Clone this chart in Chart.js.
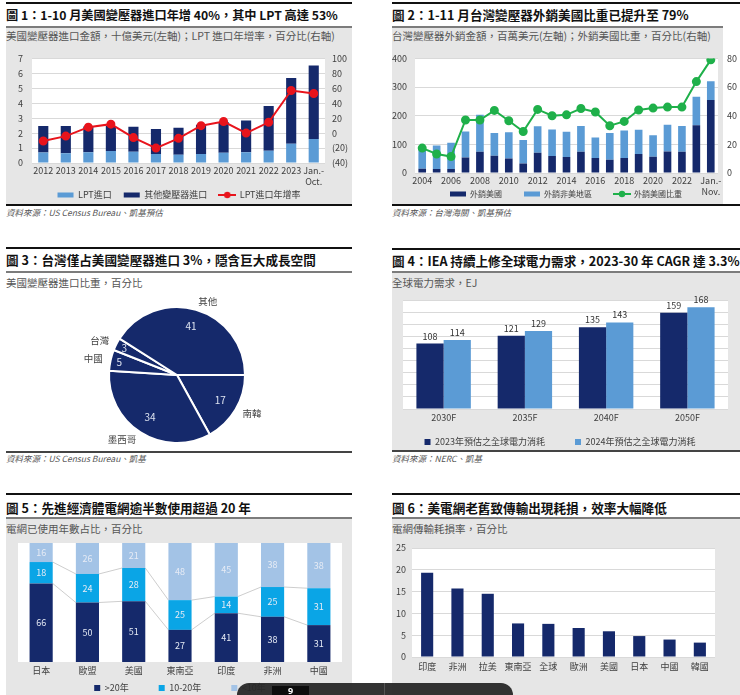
<!DOCTYPE html>
<html>
<head>
<meta charset="utf-8">
<script src="https://cdn.jsdelivr.net/npm/chart.js@4.4.1/dist/chart.umd.min.js"></script>
<style>
  body { margin:0; width:740px; height:695px; position:relative; overflow:hidden; background:#fff;
         font-family:"Noto Sans CJK TC","Noto Sans CJK SC","Noto Sans",sans-serif; }
  .rule { position:absolute; height:2px; background:#111; }
  .grule { position:absolute; height:2px; background:#7c7c7c; }
  .bg { position:absolute; background:#e6e6e6; }
  .title { position:absolute; font-weight:700; font-size:12.6px; line-height:14px; color:#111; white-space:nowrap; }
  .sub { position:absolute; font-size:10.5px; line-height:13px; color:#555; white-space:nowrap; }
  .src { position:absolute; font-style:italic; font-size:8.5px; line-height:12px; color:#555; white-space:nowrap; }
  canvas { position:absolute; }
  #overlay { position:absolute; left:237px; top:683px; width:276px; height:14px; background:rgba(40,40,40,0.95);
             border-radius:12px 12px 0 0; overflow:hidden; }
  #overlay .k { position:absolute; left:35px; top:3px; width:37px; height:12px; background:#0d0d0d; color:#fff;
                font:bold 9px "Noto Sans",sans-serif; text-align:center; line-height:9px; }
  #overlay .s { position:absolute; left:147px; top:0; width:1px; height:14px; background:#555; }
</style>
</head>
<body>

<!-- panel 1 -->
<div class="rule" style="left:6px;top:2px;width:346px"></div>
<div class="title" style="left:6px;top:8px;font-size:12.2px">圖 1：1-10 月美國變壓器進口年增 40%，其中 LPT 高達 53%</div>
<div class="grule" style="left:6px;top:26px;width:346px"></div>
<div class="bg" style="left:6px;top:28px;width:346px;height:176px"></div>
<div class="sub" style="left:6px;top:29px">美國變壓器進口金額，十億美元(左軸)；LPT 進口年增率，百分比(右軸)</div>
<div class="rule" style="left:6px;top:204px;width:346px"></div>
<div class="src" style="left:6px;top:206px">資料來源：US Census Bureau、凱基預估</div>

<!-- panel 2 -->
<div class="rule" style="left:392px;top:2px;width:348px"></div>
<div class="title" style="left:392px;top:8px">圖 2：1-11 月台灣變壓器外銷美國比重已提升至 79%</div>
<div class="grule" style="left:392px;top:26px;width:331px"></div>
<div class="bg" style="left:392px;top:28px;width:331px;height:176px"></div>
<div class="sub" style="left:392px;top:29px">台灣變壓器外銷金額，百萬美元(左軸)；外銷美國比重，百分比(右軸)</div>
<div class="rule" style="left:392px;top:204px;width:348px"></div>
<div class="src" style="left:392px;top:206px">資料來源：台灣海關、凱基預估</div>

<!-- panel 3 -->
<div class="rule" style="left:6px;top:247px;width:346px"></div>
<div class="title" style="left:6px;top:253px">圖 3：台灣僅占美國變壓器進口 3%，隱含巨大成長空間</div>
<div class="grule" style="left:6px;top:271px;width:346px"></div>
<div class="sub" style="left:6px;top:276px">美國變壓器進口比重，百分比</div>
<div class="rule" style="left:6px;top:451px;width:346px;background:#444"></div>
<div class="src" style="left:6px;top:452px">資料來源：US Census Bureau、凱基</div>

<!-- panel 4 -->
<div class="rule" style="left:392px;top:248px;width:348px"></div>
<div class="title" style="left:392px;top:254px">圖 4：IEA 持續上修全球電力需求，2023-30 年 CAGR 達 3.3%</div>
<div class="grule" style="left:392px;top:271px;width:348px"></div>
<div class="bg" style="left:392px;top:273px;width:348px;height:177px"></div>
<div class="sub" style="left:392px;top:276px">全球電力需求，EJ</div>
<div class="rule" style="left:392px;top:450px;width:348px;background:#444"></div>
<div class="src" style="left:392px;top:452px">資料來源：NERC、凱基</div>

<!-- panel 5 -->
<div class="rule" style="left:6px;top:493px;width:346px"></div>
<div class="title" style="left:6px;top:501px">圖 5：先進經濟體電網逾半數使用超過 20 年</div>
<div class="grule" style="left:6px;top:517px;width:346px"></div>
<div class="bg" style="left:6px;top:519px;width:346px;height:176px"></div>
<div class="sub" style="left:6px;top:522px">電網已使用年數占比，百分比</div>

<!-- panel 6 -->
<div class="rule" style="left:392px;top:493px;width:348px"></div>
<div class="title" style="left:392px;top:501px">圖 6：美電網老舊致傳輸出現耗損，效率大幅降低</div>
<div class="grule" style="left:392px;top:517px;width:348px"></div>
<div class="bg" style="left:392px;top:519px;width:348px;height:176px"></div>
<div class="sub" style="left:392px;top:522px">電網傳輸耗損率，百分比</div>

<canvas id="c1" width="346" height="174" style="left:6px;top:44px"></canvas>
<canvas id="c2" width="348" height="193" style="left:392px;top:44px"></canvas>
<canvas id="c3" width="346" height="160" style="left:6px;top:295px"></canvas>
<canvas id="c4" width="348" height="186" style="left:392px;top:290px"></canvas>
<canvas id="c5" width="346" height="192" style="left:6px;top:535px"></canvas>
<canvas id="c6" width="348" height="140" style="left:392px;top:535px"></canvas>

<div id="overlay"><div class="k">9</div><div class="s"></div></div>

<script>
// chart 1 - US transformer imports
const c1Labels = ['2012','2013','2014','2015','2016','2017','2018','2019','2020','2021','2022','2023',['Jan.-','Oct.']];
const c1Lpt    = [0.70, 0.65, 0.72, 0.81, 0.76, 0.60, 0.55, 0.61, 0.69, 0.72, 0.82, 1.28, 1.60];
const c1Other  = [1.77, 1.82, 1.73, 1.66, 1.67, 1.68, 1.81, 1.95, 2.06, 2.12, 3.00, 4.40, 4.93];
const c1Growth = [-10.5, -4, 8, 12, -6, -20, -7, 10, 15.5, 0, 14.5, 57, 53];

// chart 2 - Taiwan transformer exports
const c2Labels = ['2004','2005','2006','2007','2008','2009','2010','2011','2012','2013','2014','2015','2016','2017','2018','2019','2020','2021','2022','2023',['Jan.-','Nov.']];
const c2Us     = [15, 14, 14, 54, 74, 60, 51, 33, 71, 59, 56, 74, 52, 46, 52, 66, 57, 75, 74, 167, 255];
const c2NonUs  = [67, 82, 92, 91, 129, 80, 91, 82, 92, 93, 88, 90, 72, 94, 96, 85, 75, 93, 90, 99, 65];
const c2Share  = [17.4, 13.3, 11.5, 37, 37, 43.7, 36.5, 29, 44.4, 40, 40.6, 45, 42.6, 33, 36, 44, 45.3, 46, 46, 63.8, 79];

// chart 3 - US import share
const c3Labels = ['南韓','墨西哥','中國','台灣','其他'];
const c3Share  = [17, 34, 5, 3, 41];

// chart 4 - IEA power demand
const c4Labels = ['2030F','2035F','2040F','2050F'];
const c4Y2023  = [108, 121, 135, 159];
const c4Y2024  = [114, 129, 143, 168];

// chart 5 - grid age
const c5Labels = ['日本','歐盟','美國','東南亞','印度','非洲','中國'];
const c5Over20 = [66, 50, 51, 27, 41, 38, 31];
const c5Mid    = [18, 24, 28, 25, 14, 25, 31];
const c5Under10= [16, 26, 21, 48, 45, 38, 38];

// chart 6 - transmission loss
const c6Labels = ['印度','非洲','拉美','東南亞','全球','歐洲','美國','日本','中國','韓國'];
const c6Loss   = [19.3, 15.7, 14.5, 7.7, 7.6, 6.65, 5.9, 4.8, 4.0, 3.3];

const NAVY = '#15296b';
const LIGHT = '#5b9bd5';
const GRID = '#d9d9d9';
const FONT = '"Noto Sans CJK TC","Noto Sans CJK SC","Noto Sans",sans-serif';

Chart.defaults.font.family = FONT;
Chart.defaults.font.size = 9;
Chart.defaults.color = '#404040';
Chart.defaults.animation = false;
Chart.defaults.events = [];
Chart.defaults.plugins.tooltip.enabled = false;

// white plot area on the grey panel
const plotBg = {
  id: 'plotBg',
  beforeDraw(chart, args, opts) {
    if (!opts.color) return;
    const a = chart.chartArea, ctx = chart.ctx;
    ctx.save();
    ctx.fillStyle = opts.color;
    ctx.fillRect(a.left, a.top, a.right - a.left, a.bottom - a.top);
    ctx.restore();
  }
};

// put the legend row at a given height
const legendAt = {
  id: 'legendAt',
  afterLayout(chart, args, opts) {
    const lg = chart.legend;
    if (!lg || opts.y == null) return;
    const h = lg.bottom - lg.top;
    lg.top = opts.y - opts.pad - opts.fs / 2;
    lg.bottom = lg.top + h;
  }
};

// value labels on bars
const barValues = {
  id: 'barValues',
  afterDatasetsDraw(chart, args, opts) {
    if (!opts.mode) return;
    const ctx = chart.ctx;
    ctx.save();
    ctx.font = opts.font;
    ctx.textAlign = 'center';
    ctx.fillStyle = opts.color;
    chart.data.datasets.forEach((ds, i) => {
      chart.getDatasetMeta(i).data.forEach((bar, j) => {
        const v = ds.data[j];
        if (opts.mode === 'top') {
          ctx.textBaseline = 'bottom';
          ctx.fillText(v, bar.x, bar.y - 3);
        } else {
          ctx.textBaseline = 'middle';
          ctx.fillText(v, bar.x, (bar.y + bar.base) / 2);
        }
      });
    });
    ctx.restore();
  }
};

// thin lines joining the stacked segments
const seriesLines = {
  id: 'seriesLines',
  beforeDatasetsDraw(chart, args, opts) {
    if (!opts.color) return;
    const ctx = chart.ctx;
    ctx.save();
    ctx.strokeStyle = opts.color;
    ctx.lineWidth = 0.7;
    for (let i = 0; i < chart.data.datasets.length - 1; i++) {
      const bars = chart.getDatasetMeta(i).data;
      ctx.beginPath();
      for (let j = 0; j < bars.length - 1; j++) {
        const a = bars[j], b = bars[j + 1];
        ctx.moveTo(a.x + a.width / 2, a.y);
        ctx.lineTo(b.x - b.width / 2, b.y);
      }
      ctx.stroke();
    }
    ctx.restore();
  }
};

// pie labels: value inside, name outside
const pieLabels = {
  id: 'pieLabels',
  afterDatasetsDraw(chart, args, opts) {
    if (!opts.on) return;
    const ctx = chart.ctx;
    const meta = chart.getDatasetMeta(0);
    ctx.save();
    ctx.textBaseline = 'middle';
    meta.data.forEach((arc, i) => {
      const mid = (arc.startAngle + arc.endAngle) / 2;
      const r = arc.outerRadius;
      const v = chart.data.datasets[0].data[i];
      const f = v < 10 ? 0.87 : 0.74;
      ctx.font = '10px ' + FONT;
      ctx.fillStyle = '#dde3f0';
      ctx.textAlign = 'center';
      ctx.fillText(v, arc.x + Math.cos(mid) * r * f, arc.y + Math.sin(mid) * r * f);
      ctx.font = '9.5px ' + FONT;
      ctx.fillStyle = '#444';
      ctx.textAlign = Math.cos(mid) >= 0 ? 'left' : 'right';
      ctx.fillText(chart.data.labels[i], arc.x + Math.cos(mid) * r * 1.12, arc.y + Math.sin(mid) * r * 1.12);
    });
    ctx.restore();
  }
};

Chart.register(plotBg, legendAt, barValues, seriesLines, pieLabels);

const byIndex = (a, b) => a.datasetIndex - b.datasetIndex;

// legend icon for the line series: a short line with a dot
function lineIcon(color) {
  const c = document.createElement('canvas');
  c.width = 18; c.height = 8;
  const g = c.getContext('2d');
  g.strokeStyle = color; g.fillStyle = color; g.lineWidth = 2;
  g.beginPath(); g.moveTo(0, 4); g.lineTo(18, 4); g.stroke();
  g.beginPath(); g.arc(9, 4, 3.2, 0, Math.PI * 2); g.fill();
  return c;
}

function lineLegend(chart) {
  const items = Chart.defaults.plugins.legend.labels.generateLabels(chart);
  items.forEach(it => {
    const ds = chart.data.datasets[it.datasetIndex];
    it.pointStyle = ds.type === 'line' ? lineIcon(ds.borderColor) : 'rect';
  });
  return items;
}

// ---- chart 1 ----
new Chart(document.getElementById('c1'), {
  data: {
    labels: c1Labels,
    datasets: [
      { type: 'bar', label: 'LPT進口', data: c1Lpt, backgroundColor: LIGHT, yAxisID: 'y', order: 2, barPercentage: 0.45, categoryPercentage: 1 },
      { type: 'bar', label: '其他變壓器進口', data: c1Other, backgroundColor: NAVY, yAxisID: 'y', order: 2, barPercentage: 0.45, categoryPercentage: 1 },
      { type: 'line', label: 'LPT進口年增率', data: c1Growth, borderColor: '#e8141c', backgroundColor: '#e8141c', borderWidth: 2, pointRadius: 3.5, yAxisID: 'y1', order: 1 }
    ]
  },
  options: {
    responsive: false,
    layout: { padding: { top: 11, left: 0, right: 0, bottom: 0 } },
    scales: {
      x: { stacked: true, grid: { display: false, drawTicks: false }, border: { display: false },
           ticks: { maxRotation: 0, autoSkip: false, padding: 2 }, afterFit: s => { s.height = 24; } },
      y: { stacked: true, min: 0, max: 7, ticks: { stepSize: 1, padding: 9 },
           grid: { color: GRID, drawTicks: false }, border: { display: false }, afterFit: s => { s.width = 26; } },
      y1: { position: 'right', min: -40, max: 100,
            ticks: { stepSize: 20, padding: 7, callback: v => v < 0 ? '(' + (-v) + ')' : v },
            grid: { display: false, drawTicks: false }, border: { display: false }, afterFit: s => { s.width = 27; } }
    },
    plugins: {
      legend: { position: 'bottom', labels: { usePointStyle: true, pointStyleWidth: 16, boxHeight: 5, padding: 12, generateLabels: lineLegend, sort: byIndex } },
      legendAt: { y: 151, pad: 12, fs: 9 },
      plotBg: { color: '#fff' }
    }
  }
});

// ---- chart 2 ----
new Chart(document.getElementById('c2'), {
  data: {
    labels: c2Labels,
    datasets: [
      { type: 'bar', label: '外銷美國', data: c2Us, backgroundColor: NAVY, yAxisID: 'y', order: 2, barPercentage: 0.53, categoryPercentage: 1 },
      { type: 'bar', label: '外銷非美地區', data: c2NonUs, backgroundColor: LIGHT, yAxisID: 'y', order: 2, barPercentage: 0.53, categoryPercentage: 1 },
      { type: 'line', label: '外銷美國比重', data: c2Share, borderColor: '#1fb04a', backgroundColor: '#1fb04a', borderWidth: 2, pointRadius: 3.5, yAxisID: 'y1', order: 1 }
    ]
  },
  options: {
    responsive: false,
    layout: { padding: { top: 8, left: 0, right: 0, bottom: 0 } },
    scales: {
      x: { stacked: true, grid: { display: false, drawTicks: false }, border: { display: false },
           ticks: { maxRotation: 0, autoSkip: false, padding: 2,
                    callback: function (v, i) { return i % 2 === 0 ? this.getLabelForValue(v) : ''; } },
           afterFit: s => { s.height = 24; } },
      y: { stacked: true, min: 0, max: 400, ticks: { stepSize: 100, padding: 8 },
           grid: { color: GRID, drawTicks: false }, border: { display: false }, afterFit: s => { s.width = 23; } },
      y1: { position: 'right', min: 0, max: 80, ticks: { stepSize: 20, padding: 9 },
            grid: { display: false, drawTicks: false }, border: { display: false }, afterFit: s => { s.width = 22; } }
    },
    plugins: {
      legend: { position: 'bottom', labels: { usePointStyle: true, pointStyleWidth: 16, boxHeight: 5, padding: 22,
                font: { size: 8 }, generateLabels: lineLegend, sort: byIndex } },
      legendAt: { y: 150, pad: 22, fs: 8 },
      plotBg: { color: '#fff' }
    }
  }
});

// ---- chart 3 ----
new Chart(document.getElementById('c3'), {
  type: 'pie',
  data: {
    labels: c3Labels,
    datasets: [{ data: c3Share, backgroundColor: NAVY, borderColor: '#fff', borderWidth: 2, hoverOffset: 0 }]
  },
  options: {
    responsive: false,
    rotation: 90,
    layout: { padding: { left: 102, right: 106, top: 11, bottom: 11 } },
    plugins: { legend: { display: false }, pieLabels: { on: true } }
  }
});

// ---- chart 4 ----
new Chart(document.getElementById('c4'), {
  type: 'bar',
  data: {
    labels: c4Labels,
    datasets: [
      { label: '2023年預估之全球電力消耗', data: c4Y2023, backgroundColor: NAVY, barPercentage: 1, categoryPercentage: 0.67 },
      { label: '2024年預估之全球電力消耗', data: c4Y2024, backgroundColor: LIGHT, barPercentage: 1, categoryPercentage: 0.67 }
    ]
  },
  options: {
    responsive: false,
    layout: { padding: { top: 10, left: 0, right: 12, bottom: 0 } },
    scales: {
      x: { grid: { display: false, drawTicks: false }, border: { display: false }, ticks: { padding: 3, maxRotation: 0 },
           afterFit: s => { s.height = 18; } },
      y: { min: 0, max: 180, ticks: { display: false, stepSize: 20 }, grid: { color: GRID, drawTicks: false },
           border: { display: false }, afterFit: s => { s.width = 11; } }
    },
    plugins: {
      legend: { position: 'bottom', labels: { boxWidth: 6, boxHeight: 6, padding: 30, sort: byIndex } },
      legendAt: { y: 152, pad: 30, fs: 9 },
      plotBg: { color: '#fff' },
      barValues: { mode: 'top', color: '#333', font: '9px ' + FONT }
    }
  }
});

// ---- chart 5 ----
new Chart(document.getElementById('c5'), {
  type: 'bar',
  data: {
    labels: c5Labels,
    datasets: [
      { label: '>20年', data: c5Over20, backgroundColor: NAVY, barPercentage: 0.5, categoryPercentage: 1 },
      { label: '10-20年', data: c5Mid, backgroundColor: '#0aa5e6', barPercentage: 0.5, categoryPercentage: 1 },
      { label: '<10年', data: c5Under10, backgroundColor: '#a3c3e6', barPercentage: 0.5, categoryPercentage: 1 }
    ]
  },
  options: {
    responsive: false,
    layout: { padding: { top: 8, left: 12, right: 10, bottom: 0 } },
    scales: {
      x: { stacked: true, grid: { display: false, drawTicks: false }, border: { display: false },
           ticks: { padding: 3, maxRotation: 0, autoSkip: false }, afterFit: s => { s.height = 16; } },
      y: { stacked: true, min: 0, max: 100, display: false }
    },
    plugins: {
      legend: { position: 'bottom', labels: { boxWidth: 6, boxHeight: 6, padding: 30, sort: byIndex } },
      legendAt: { y: 153, pad: 30, fs: 9 },
      plotBg: { color: '#fff' },
      barValues: { mode: 'center', color: '#e6ebf5', font: '9px ' + FONT },
      seriesLines: { color: '#b8b8b8' }
    }
  }
});

// ---- chart 6 ----
new Chart(document.getElementById('c6'), {
  type: 'bar',
  data: {
    labels: c6Labels,
    datasets: [{ label: '耗損率', data: c6Loss, backgroundColor: NAVY, barPercentage: 0.4, categoryPercentage: 1 }]
  },
  options: {
    responsive: false,
    layout: { padding: { top: 13, left: 0, right: 25, bottom: 0 } },
    scales: {
      x: { grid: { display: false, drawTicks: false }, border: { display: false },
           ticks: { padding: 4, maxRotation: 0, autoSkip: false }, afterFit: s => { s.height = 18; } },
      y: { min: 0, max: 25, ticks: { stepSize: 5, padding: 6 }, grid: { color: GRID, drawTicks: false },
           border: { display: false }, afterFit: s => { s.width = 20; } }
    },
    plugins: {
      legend: { display: false },
      plotBg: { color: '#fff' }
    }
  }
});
</script>
</body>
</html>
